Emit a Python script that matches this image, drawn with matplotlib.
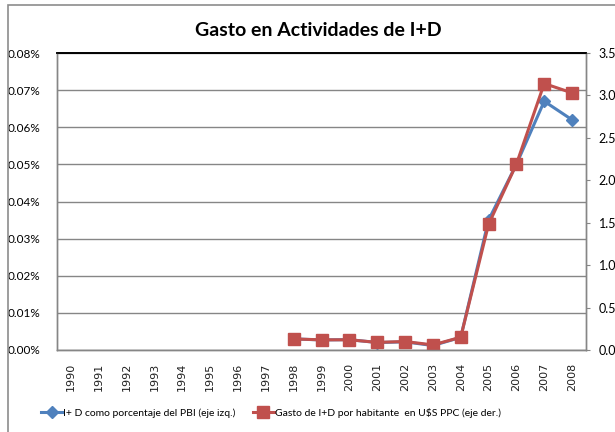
import matplotlib.pyplot as plt
from matplotlib.patches import Rectangle
from matplotlib.ticker import FuncFormatter

# datos
years = [str(y) for y in range(1990, 2009)]
# I+D como % del PBI (eje izq.), valores en porcentaje; None = sin dato
pct_pbi = [None] * 8 + [0.003, 0.0027, 0.0028, 0.002, 0.0022, 0.0012,
                        0.0034, 0.035, 0.050, 0.067, 0.062]
# Gasto de I+D por habitante en U$S PPC (eje der.)
gasto_hab = [None] * 8 + [0.13, 0.12, 0.12, 0.09, 0.10, 0.06,
                          0.15, 1.48, 2.19, 3.14, 3.03]

blue = '#4F81BD'
red = '#C0504D'
font = 'Lato'

fig = plt.figure(figsize=(6.15, 4.32), dpi=100)
ax = fig.add_axes([57 / 615, 82 / 432, 529 / 615, 297 / 432])
ax2 = ax.twinx()

x = list(range(len(years)))
xs = [i for i, v in zip(x, pct_pbi) if v is not None]
l1, = ax.plot(xs, [v for v in pct_pbi if v is not None], color=blue, lw=2.2,
              marker='D', ms=6.5, label='I+ D como porcentaje del PBI (eje izq.)')
l2, = ax2.plot(xs, [v for v in gasto_hab if v is not None], color=red, lw=2.2,
               marker='s', ms=8,
               label='Gasto de I+D por habitante  en U$S PPC (eje der.)')

ax.set_xlim(-0.5, len(years) - 0.5)
ax.set_ylim(0, 0.08)
ax.set_yticks([i / 100 for i in range(9)])
ax.yaxis.set_major_formatter(FuncFormatter(lambda v, p: f'{v:.2f}%'))
ax2.set_ylim(0, 3.5)
ax2.set_yticks([i * 0.5 for i in range(8)])
ax2.yaxis.set_major_formatter(FuncFormatter(lambda v, p: f'{v:.2f}'))

ax.set_xticks(x)
ax.set_xticklabels(years, rotation=90, fontsize=8, family='DejaVu Sans',
                   color='#222222')
ax.tick_params(axis='x', length=0, pad=9)
ax.tick_params(axis='y', length=0, pad=12, labelsize=8.5)
ax2.tick_params(axis='y', length=3, color='#868686', pad=6, labelsize=9)
for lab in ax.get_yticklabels() + ax2.get_yticklabels():
    lab.set_family(font)

ax.grid(axis='y', color='#868686', lw=1)
ax.set_axisbelow(True)
for a in (ax, ax2):
    for s in ('left', 'right', 'bottom'):
        a.spines[s].set_color('#868686')
        a.spines[s].set_linewidth(1)
    a.spines['top'].set_color('black')
    a.spines['top'].set_linewidth(1.2)

fig.text(318 / 615, 1 - 31 / 432, 'Gasto en Actividades de I+D', ha='center',
         va='center', fontsize=14, fontweight='bold', family=font)

fig.legend(handles=[l1, l2], loc='center', ncol=2, frameon=False,
           bbox_to_anchor=(271 / 615, 1 - 413 / 432), prop={'family': font, 'size': 7.5},
           handlelength=2.1, handletextpad=0.1, columnspacing=1.6)

# borde del grafico
fig.patches.append(Rectangle((8 / 615, -0.1), 1.2, 1.1 - 5 / 432, fill=False,
                             edgecolor='#8c8c8c', lw=1.2,
                             transform=fig.transFigure, figure=fig))

fig.savefig('out.png', dpi=100)
